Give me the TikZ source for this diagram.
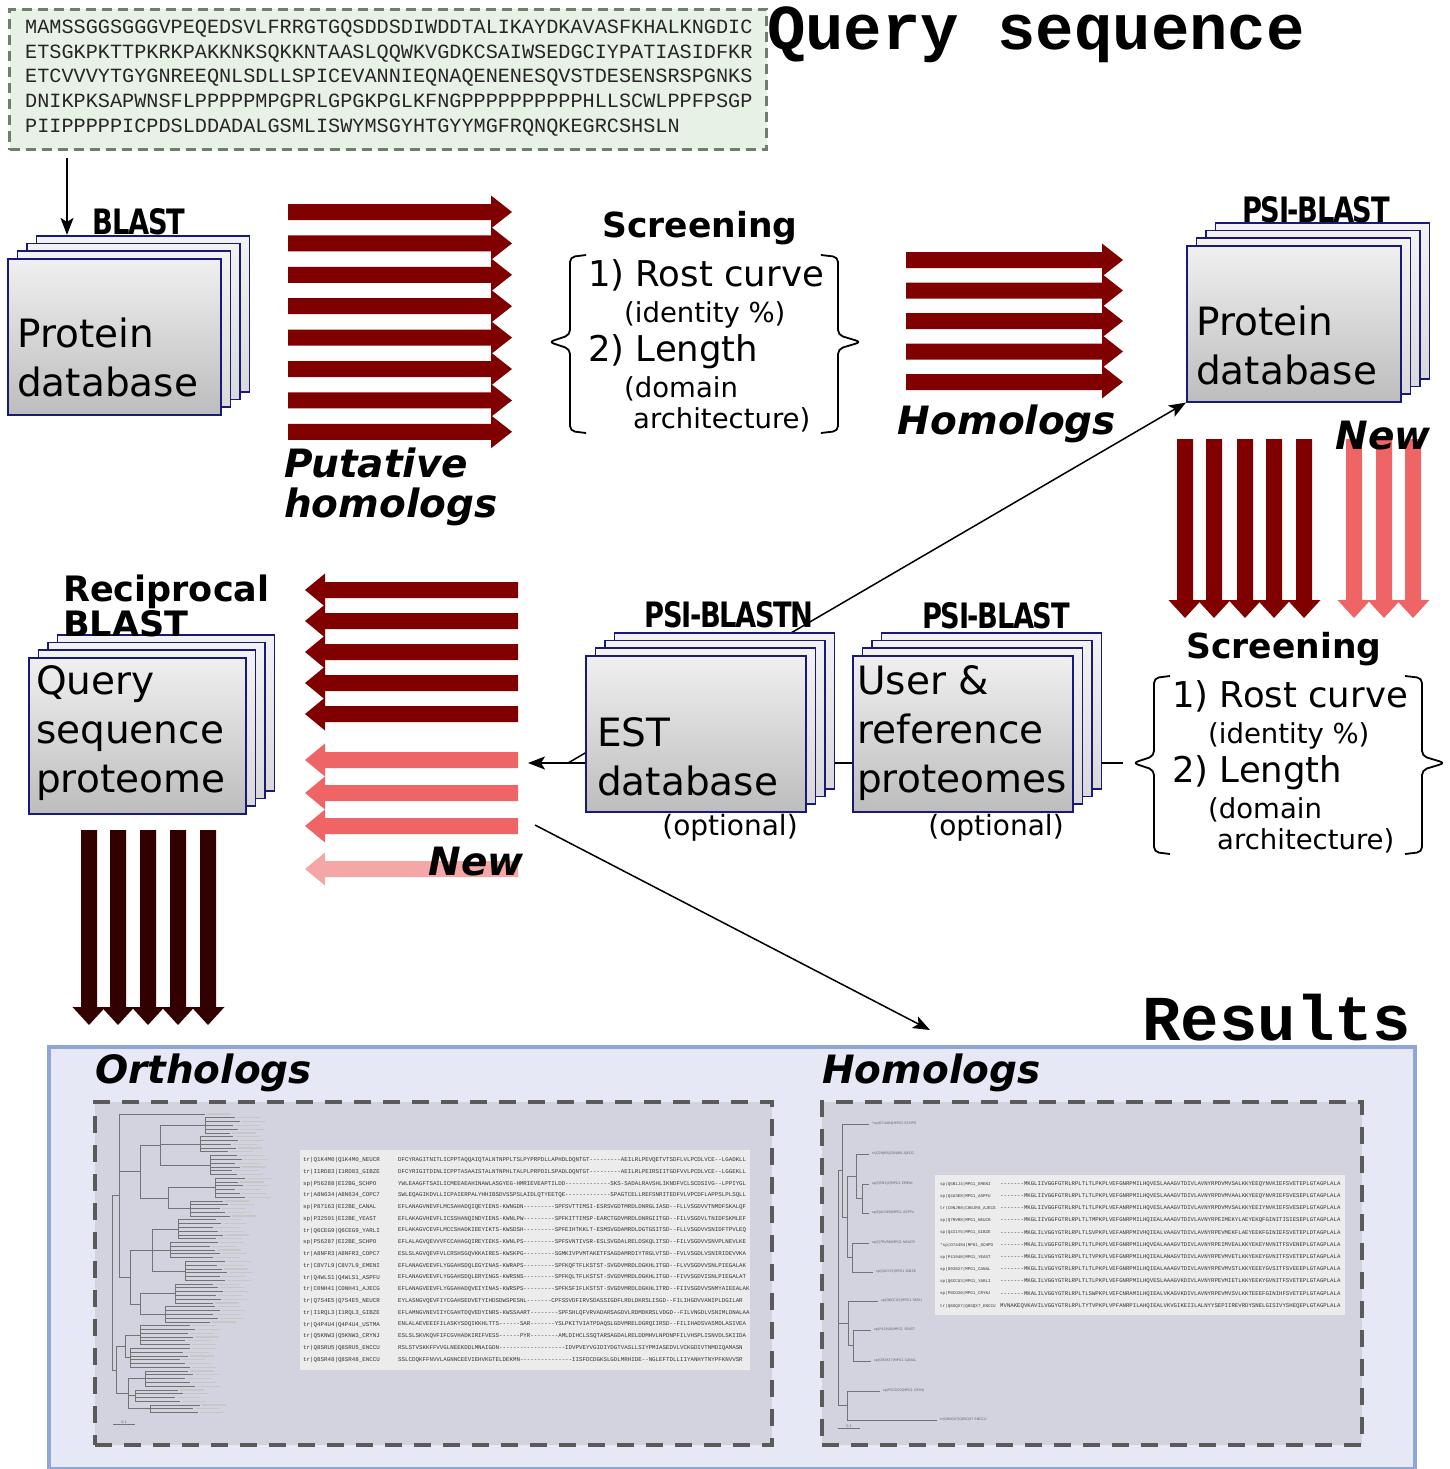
\documentclass[tikz,border=0pt]{standalone}
\usepackage{fontspec}
\setmainfont{DejaVu Sans}
\newfontfamily\monofont{Liberation Mono}[Ligatures=TeXOff]
\newfontfamily\narrowfont{DejaVu Sans}[FakeStretch=0.78,LetterSpace=-4]
\usetikzlibrary{arrows.meta,positioning,calc,backgrounds}
\definecolor{arrowred}{RGB}{128,0,0}
\definecolor{newred}{RGB}{239,100,100}
\definecolor{palered}{RGB}{245,166,166}
\definecolor{darkbrown}{RGB}{51,0,0}
\definecolor{cardedge}{RGB}{25,25,120}
\definecolor{seqfill}{RGB}{232,241,230}
\definecolor{seqedge}{RGB}{110,128,108}
\definecolor{resfill}{RGB}{230,232,245}
\definecolor{resedge}{RGB}{142,166,216}
\definecolor{panelfill}{RGB}{210,211,222}
\definecolor{paneledge}{RGB}{90,90,90}
\definecolor{alnfill}{RGB}{236,236,236}
\tikzset{
  card/.style={draw=cardedge,line width=1.6pt,top color=black!6,bottom color=black!26,inner sep=0pt},
  backcard/.style={card,top color=black!5,bottom color=black!15},
  cardtxt/.style={font=\fontsize{39}{49}\selectfont,align=left,anchor=west,inner sep=0pt},
  dblabel/.style={font=\narrowfont\bfseries\fontsize{35}{35}\selectfont,inner sep=0pt},
  headtxt/.style={font=\bfseries\fontsize{34.5}{36}\selectfont,inner sep=0pt},
  critbig/.style={font=\fontsize{35.5}{40}\selectfont,anchor=west,inner sep=0pt},
  critsmall/.style={font=\fontsize{27.5}{30}\selectfont,anchor=west,inner sep=0pt},
  tagtxt/.style={font=\bfseries\itshape\fontsize{39}{40}\selectfont,inner sep=0pt},
  monotitle/.style={font=\monofont\bfseries\fontsize{64}{64}\selectfont,inner sep=0pt},
  seqtxt/.style={font=\monofont\fontsize{20.2}{24}\selectfont,anchor=base west,inner sep=0pt,text=black!85},
  alnid/.style={font=\monofont\fontsize{5.8}{6}\selectfont,anchor=west,inner sep=0pt,text=black!80},
  alnseq/.style={font=\monofont\fontsize{5.8}{6}\selectfont,anchor=west,inner sep=0pt,text=black!80},
  bracepath/.style={line width=1.8pt,rounded corners=5pt},
  flowarrow/.style={-{Stealth[length=17pt,width=13pt,inset=4pt]},line width=1.5pt},
  treeln/.style={line width=0.8pt,black!55},
  leafln/.style={line width=1.2pt,black!22},
  leaftxt/.style={font=\fontsize{3.4}{4}\selectfont,anchor=west,inner sep=0pt,text=black!60},
  dashpanel/.style={draw=paneledge,fill=panelfill,line width=4pt,dash pattern=on 17pt off 12pt,anchor=north west,inner sep=0pt},
}
% block arrows
\newcommand{\rightblock}[4]{\fill[#4] (#1,#3-8) -- (#2-21,#3-8) -- (#2-21,#3-16.5) -- (#2,#3) -- (#2-21,#3+16.5) -- (#2-21,#3+8) -- (#1,#3+8) -- cycle;}
\newcommand{\leftblock}[4]{\fill[#4] (#1,#3) -- (#1+20,#3-16.5) -- (#1+20,#3-8) -- (#2,#3-8) -- (#2,#3+8) -- (#1+20,#3+8) -- (#1+20,#3+16.5) -- cycle;}
\newcommand{\downblock}[4]{\fill[#4] (#1-8,#2) -- (#1+8,#2) -- (#1+8,#3-18) -- (#1+16.5,#3-18) -- (#1,#3) -- (#1-16.5,#3-18) -- (#1-8,#3-18) -- cycle;}
% stack of database cards
\newcommand{\cardstack}[4]{%
  \foreach \k in {3,2,1}{\node[backcard,anchor=north west,minimum width=#3pt,minimum height=#4pt] (#1\k) at ($(#2)+\k*(9.5,-7.7)$) {};}
  \node[card,anchor=north west,minimum width=#3pt,minimum height=#4pt] (#1) at (#2) {};}
% screening criteria with braces
\newcommand{\screenblock}[2]{%
  \begin{scope}[shift={(#2)}]
    \node[headtxt] (#1head) at (700,228) {Screening};
    \node[critbig] (#1a) at (588,275) {1) Rost curve};
    \node[critsmall] (#1b) at (624,315) {(identity \%)};
    \node[critbig] (#1c) at (588,352) {2) Length};
    \node[critsmall] (#1d) at (624,389) {(domain};
    \node[critsmall] (#1e) at (633,420) {architecture)};
    \draw[bracepath] (586,255) -- (570,257) -- (570,335) -- (549,342) -- (570,349) -- (570,431) -- (586,433);
    \draw[bracepath] (821,255) -- (838,257) -- (838,335) -- (861,342) -- (838,349) -- (838,431) -- (821,433);
    \coordinate (#1tip) at (549,342);
  \end{scope}}

\begin{document}
\begin{tikzpicture}[x=1pt,y=-1pt]
\useasboundingbox (0,0) rectangle (1449,1469);

% query sequence
\node[draw=seqedge,fill=seqfill,line width=3pt,dash pattern=on 10pt off 6pt,anchor=north west,minimum width=757pt,minimum height=140pt,inner sep=0pt] (query) at (8,8) {};
\foreach \s [count=\i from 0] in {MAMSSGGSGGGVPEQEDSVLFRRGTGQSDDSDIWDDTALIKAYDKAVASFKHALKNGDIC,ETSGKPKTTPKRKPAKKNKSQKKNTAASLQQWKVGDKCSAIWSEDGCIYPATIASIDFKR,ETCVVVYTGYGNREEQNLSDLLSPICEVANNIEQNAQENENESQVSTDESENSRSPGNKS,DNIKPKSAPWNSFLPPPPPMPGPRLGPGKPGLKFNGPPPPPPPPPPHLLSCWLPPFPSGP,PIIPPPPPICPDSLDDADALGSMLISWYMSGYHTGYYMGFRQNQKEGRCSHSLN}
  \node[seqtxt] (seq\i) at (25,{34+24.5*\i}) {\s};
\node[monotitle] (qtitle) at (1036,35) {Query sequence};

% first BLAST round
\cardstack{prot}{7,258}{213}{156}
\node[cardtxt] (prottxt) at (17,357) {Protein\\database};
\node[dblabel] (blastlbl) at (139,222) {BLAST};
\coordinate (qout) at ($(query.south west)+(59,7)$);
\draw[flowarrow] (qout) -- (qout |- prot3.north);

\foreach \i in {0,...,7}{\pgfmathsetmacro\yy{212+31.4*\i}\rightblock{288}{512}{\yy}{arrowred}}
\node[tagtxt,align=left,anchor=west] (putlbl) at (284,487) {Putative\\homologs};

\screenblock{scrA}{0,0}

\foreach \i in {0,...,4}{\pgfmathsetmacro\yy{260+30.5*\i}\rightblock{906}{1123}{\yy}{arrowred}}
\node[tagtxt] (homlbl) at (1007,424) {Homologs};

% PSI-BLAST round
\cardstack{psiprot}{1186,245}{214}{156}
\node[cardtxt] (psiprottxt) at (1196,345) {Protein\\database};
\node[dblabel] (psilbl) at (1316,210) {PSI-BLAST};

\foreach \x in {1185,1214,1245,1274,1304} \downblock{\x}{439}{618}{arrowred};
\foreach \x in {1354,1384,1413} \downblock{\x}{439}{618}{newred};
\node[tagtxt] (newtop) at (1383,436) {New};

\screenblock{scrB}{584,421}

% optional databases
\cardstack{est}{585,655}{220}{156}
\node[cardtxt] (esttxt) at (597,757) {EST\\database};
\node[dblabel] (psinlbl) at (729,615) {PSI-BLASTN};
\node[font=\fontsize{28}{30}\selectfont,inner sep=0pt] (estopt) at (730,828) {(optional)};

\cardstack{user}{852,655}{220}{156}
\node[cardtxt] (usertxt) at (857,733) {User \&\\reference\\proteomes};
\node[dblabel] (psimidlbl) at (996,616) {PSI-BLAST};
\node[font=\fontsize{28}{30}\selectfont,inner sep=0pt] (useropt) at (996,828) {(optional)};

% reciprocal BLAST
\foreach \i in {0,...,4}{\pgfmathsetmacro\yy{590+31*\i}\leftblock{305}{518}{\yy}{arrowred}}
\foreach \yy in {760,793,826} \leftblock{305}{518}{\yy}{newred};
\leftblock{305}{518}{869}{palered}
\node[tagtxt] (newmid) at (476,862) {New};

\cardstack{recip}{28,657}{217}{156}
\node[cardtxt] (reciptxt) at (36,733) {Query\\sequence\\proteome};
\node[font=\bfseries\fontsize{35}{28}\selectfont,align=left,anchor=west,inner sep=0pt] (reciplbl) at (63,606) {Reciprocal\\BLAST};

\foreach \x in {89,118,148,178,208} \downblock{\x}{830}{1025}{darkbrown};

% connectors
\coordinate (estout) at (528,763);
\coordinate (split) at (568,763);
\coordinate (resfrom) at (535,825);
\coordinate (resto) at (930,1030);
\begin{scope}[on background layer]
  \draw[flowarrow] ($(scrBtip)+(-10,0)$) -- (estout);
  \draw[flowarrow] (split) -- (psiprot.south west);
\end{scope}
\draw[flowarrow] (resfrom) -- (resto);

% results
\node[monotitle] (restitle) at (1277,1018) {Results};
\node[draw=resedge,fill=resfill,line width=4pt,anchor=north west,minimum width=1366pt,minimum height=422pt,inner sep=0pt] (results) at (47,1045) {};
\node[tagtxt,anchor=west] (orthlbl) at (95,1073) {Orthologs};
\node[tagtxt,anchor=west] (homlbl2) at (822,1073) {Homologs};
\node[dashpanel,minimum width=677pt,minimum height=343pt] (orthpanel) at (93,1100) {};
\node[dashpanel,minimum width=540pt,minimum height=343pt] (homopanel) at (820,1100) {};

% ortholog tree
\foreach \a/\b/\bx/\len in {1/5/205/25,6/10/200/28,11/16/210/22,17/22/215/20,23/27/190/30,28/33/178/35,34/38/170/40,39/44/185/32,45/50/175/38,51/55/165/45,56/61/140/45,62/67/130/50,68/72/145/40,73/76/135/40,77/79/150/40}{
  \draw[treeln] (\bx,{1114+3.78*\a}) -- (\bx,{1114+3.78*\b});
  \foreach \i in {\a,...,\b}{
    \pgfmathsetmacro\lx{\bx+\len+mod(\i*7,5)*2.5}
    \pgfmathsetmacro\ly{1114+3.78*\i}
    \draw[treeln] (\bx,\ly) -- (\lx,\ly);
    \draw[leafln] (\lx+2,\ly) -- ++(24,0);
  }
}
\draw[treeln] (119,1114) -- (205,1114);
\draw[leafln] (207,1114) -- ++(24,0);
\foreach \xa/\xb/\yy in {160/205/1125.3,160/200/1144.2,160/210/1165,168/215/1187.7,168/190/1208.5,152/178/1229.3,152/170/1250.1,152/185/1270.9,140/175/1293.6,140/165/1314.3,125/140/1335.1,125/130/1357.8,128/145/1378.6,128/135/1395.6,128/150/1408.8,140/160/1145.2,140/168/1198.1,130/152/1250.1,130/140/1304,119/140/1171.7,119/130/1277.1,116/125/1346.5,116/128/1393.7,112/119/1195.5,112/116/1370.1}
  \draw[treeln] (\xa,\yy) -- (\xb,\yy);
\foreach \xx/\ya/\yb in {160/1125.3/1165,168/1187.7/1208.5,152/1229.3/1270.9,140/1293.6/1314.3,125/1335.1/1357.8,128/1378.6/1408.8,140/1145.2/1198.1,130/1250.1/1304,119/1114/1277.1,116/1346.5/1393.7,112/1195.5/1370.1}
  \draw[treeln] (\xx,\ya) -- (\xx,\yb);
\draw[treeln] (113,1424) -- (135,1424) node[midway,above=0.5pt,font=\fontsize{3.4}{4}\selectfont,inner sep=0pt,text=black!60] (oscale) {0.1};

% ortholog alignment
\node[fill=alnfill,anchor=north west,minimum width=450pt,minimum height=220pt,inner sep=0pt] (orthaln) at (300,1150) {};
\foreach \id/\sq [count=\r from 0] in {
tr|Q1K4M0|Q1K4M0\_NEUCR/DFCYRAGITNITLICPPTAQQAIQTALNTNPPLTSLPYPRPDLLAPHDLDQNTGT---------AEILRLPEVQETVTSDFLVLPCDLVCE--LGADKLL,
tr|I1RD83|I1RD83\_GIBZE/DFCYRIGITDINLICPPTASAAISTALNTNPHLTALPLPRPDILSPADLDQNTGT---------AEILRLPEIRSIITGDFVVLPCDLVCE--LGGEKLL,
sp|P56288|EI2BG\_SCHPO/YWLEAAGFTSAILICMEEAEAHINAWLASGYEG-HMRIEVEAPTILDD-------------SKS-SADALRAVSHLIKNDFVCLSCDSIVG--LPPIYGL,
tr|A8N634|A8N634\_COPC7/SWLEQAGIKDVLLICPAIERPALYHHIBSDVSSPSLAIDLQTYEETQE-------------SPAGTCELLREFSNRITEDFVLVPCDFLAPPSLPLSQLL,
sp|P87163|EI2BE\_CANAL/EFLANAGVNEVFLMCSAHADQIQEYIENS-KWNGDN---------SPFSVTTIMSI-ESRSVGDTMRDLDNRGLIASD--FLLVSGDVVTNMDFSKALQF,
sp|P32501|EI2BE\_YEAST/EFLAKAGVHEVFLICSSHANQINDYIENS-KWNLPW---------SPFKITTIMSP-EARCTGDVMRDLDNRGIITGD--FILVSGDVLTNIDFSKMLEF,
tr|Q6CEG9|Q6CEG9\_YARLI/EFLAKAGVCEVFLMCCSHADKIEEYIKTS-KWSDSH---------SPFEIHTKKLT-ESMSVGDAMRDLDGTGSITSD--FLLVSGDVVSNIDFTPVLEQ,
sp|P56287|EI2BE\_SCHPO/EFLALAGVQEVVVFCCAHAGQIREYIEKS-KWNLPS---------SPFSVNTIVSR-ESLSVGDALRELDSKQLITSD--FILVSGDVVSNVPLNEVLKE,
tr|A8NFR3|A8NFR3\_COPC7/ESLSLAGVQEVFVLCRSHSGQVKKAIRES-KWSKPG---------SGMKIVPVMTAKETFSAGDAMRDIYTRGLVTSD--FVLVSGDLVSNIRIDEVVKA,
tr|C8V7L9|C8V7L9\_EMENI/EFLANAGVEEVFLYGGAHSDQLEGYINAS-KWRAPS---------SPFKQFTFLKSTST-SVGDVMRDLDGKHLITGD--FLVVSGDVVSNLPIEGALAK,
tr|Q4WLS1|Q4WLS1\_ASPFU/EFLANAGVEEVFLYGGAHSDQLERYINGS-KWRSNS---------SPFKQLTFLKSTST-SVGDVMRDLDGKHLITGD--FIVVSGDVISNLPIEGALAT,
tr|C0NH41|C0NH41\_AJECG/EFLANAGVEEVFLYGGAHADQVEIYINAS-KWRSPS---------SPFKSFIFLKSTST-SVGDVMRDLDGKHLITRD--FIIVSGDVVSNMYAIEEALAK,
tr|Q7S4E5|Q7S4E5\_NEUCR/EYLASNGVQEVFIYCGAHSEDVETYIHDSDWSPESNL-------CPFSSVDFIRVSDASSIGDFLRDLDKRSLISGD--FILIHGDVVANIPLDGILAR,
tr|I1RQL3|I1RQL3\_GIBZE/EFLAMNGVNEVIIYCGAHTDQVEDYINRS-KWSSAART--------SPFSHLQFVRVADARSAGDVLRDMDKRSLVDGD--FILVNGDLVSNIMLDNALAA,
tr|Q4P4U4|Q4P4U4\_USTMA/ENLALAEVEEIFILASKYSDQIKKHLTTS------SAR-------YSLPKITVIATPDAQSLGDVMRELDGRQIIRSD--FILIHADSVASMDLASIVEA,
tr|Q5KNW3|Q5KNW3\_CRYNJ/ESLSLSKVKQVFIFCGVHADKIRIFVESS------PYR--------AMLDIHCLSSQTARSAGDALRELDDMHVLNPDNPFILVHSPLISNVDLSKIIDA,
tr|Q8SRU5|Q8SRU5\_ENCCU/RSLSTVSKKFFVVGLNEEKDDLMNAIGDN-------------------IDVPVEYVGIDIYDGTVASLLSIYPMIASEDVLVCKGDIVTNMDIQAMASN,
tr|Q8SR48|Q8SR48\_ENCCU/SSLCDQKFFNVVLAGNNCEEVIEHVKGTELDEKMN---------------IISFDCDGKSLGDLMRHIDE--NGLEFTDLLIIYANHYTNYPFKNVVSR}{
  \node[alnid] (oid\r) at (303,{1160+11.75*\r}) {\id};
  \node[alnseq] (oseq\r) at (398,{1160+11.75*\r}) {\sq};
}

% homolog tree
\foreach \yy/\xa/\xb/\lbl [count=\n] in {1124/842/869/{*sp|O74484|MPG1 SCHPO},1154/856/869/{tr|C0NJR8|C0NJR8 AJECG},1184/862/869/{sp|Q5B1J4|MPG1 EMENI},1213/862/869/{sp|Q4U3E8|MPG1 ASPFU},1243/852/869/{sp|Q7RVR8|MPG1 NEUCR},1272/852/873/{sp|Q4I1Y5|MPG1 GIBZE},1301/848/878/{sp|Q6CCU3|MPG1 YARLI},1330/853/871/{sp|P41940|MPG1 YEAST},1361/853/871/{sp|O93827|MPG1 CANAL},1391/847/880/{sp|P0CO20|MPG1 CRYNJ},1420/847/937/{tr|Q8SQX7|Q8SQX7 ENCCU}}{
  \draw[treeln] (\xa,\yy) -- (\xb,\yy);
  \node[leaftxt] (hleaf\n) at (\xb+3,\yy) {\lbl};
}
\foreach \xa/\xb/\yy in {856/862/1198.5,847/856/1176,847/852/1257.5,842/847/1217,838/842/1170,848/853/1345.5,838/848/1323,838/847/1405.5}
  \draw[treeln] (\xa,\yy) -- (\xb,\yy);
\foreach \xx/\ya/\yb in {862/1184/1213,856/1154/1198.5,852/1243/1272,847/1176/1257.5,842/1124/1217,853/1330/1361,848/1301/1345.5,847/1391/1420,838/1170/1405.5}
  \draw[treeln] (\xx,\ya) -- (\xx,\yb);
\draw[treeln] (838,1428) -- (860,1428) node[midway,above=0.5pt,font=\fontsize{3.4}{4}\selectfont,inner sep=0pt,text=black!60] (hscale) {0.1};

% homolog alignment
\node[fill=alnfill,anchor=north west,minimum width=410pt,minimum height=140pt,inner sep=0pt] (homoaln) at (935,1175) {};
\foreach \id/\sq [count=\r from 0] in {
sp|Q5B1J4|MPG1\_EMENI/-------MKGLIIVGGFGTRLRPLTLTLPKPLVEFGNRPMILHQVESLAAAGVTDIVLAVNYRPDVMVSALKKYEEQYNVKIEFSVETEPLGTAGPLALA,
sp|Q4U3E8|MPG1\_ASPFU/-------MKGLIIVGGFGTRLRPLTLTLPKPLVEFGNRPMILHQVESLAAAGVTDIVLAVNYRPDVMVAALKKYEEQYNVRIEFSVESEPLGTAGPLALA,
tr|C0NJR8|C0NJR8\_AJECG/-------MKGLIIVGGFGTRLRPLTLTLPKPLVEFANRPMILHQVESLAAAGVTDIVLAVNYRPDVMVSALKKYEEIYNVKIEFSVESEPLGTAGPLALA,
sp|Q7RVR8|MPG1\_NEUCR/-------MKGLIIVGGFGTRLRPLTLTMPKPLVEFGNRPMILHQIEALAAAGVTDIVLAVNYRPEIMEKYLAEYEKQFGINITISIESEPLGTAGPLALA,
sp|Q4I1Y5|MPG1\_GIBZE/-------MKGLILVGGYGTRLRPLTLSVPKPLVEFANRPMIVHQIEALVAAGVTDIVLAVNYRPEVMEKFLAEYEEKFGINIEFSVETEPLDTAGPLALA,
*sp|O74484|MPG1\_SCHPO/-------MKALILVGGFGTRLRPLTLTLPKPLVEFGNRPMILHQVEALAAAGVTDIVLAVNYRPEIMVEALKKYEKEYNVNITFSVENEPLGTAGPLALA,
sp|P41940|MPG1\_YEAST/-------MKGLILVGGYGTRLRPLTLTVPKPLVEFGNRPMILHQIEALANAGVTDIVLAVNYRPEVMVETLKKYEKEYGVNITFSVETEPLGTAGPLALA,
sp|O93827|MPG1\_CANAL/-------MKGLILVGGYGTRLRPLTLTLPKPLVEFGNRPMILHQIEALAAAGVTDIVLAVNYRPEVMVSTLKKYEEEYGVSITFSVEEEPLGTAGPLALA,
sp|Q6CCU3|MPG1\_YARLI/-------MKGLILVGGYGTRLRPLTLTLPKPLVEFGNRPMILHQVESLAAAGVKDIVLAVNYRPEVMIETLKKYEEKYGVNITFSVETEPLGTAGPLALA,
sp|P0CO20|MPG1\_CRYNJ/-------MKALILVGGYGTRLRPLTLSWPKPLVEFCNRAMILHQIEALVKAGVKDIVLAVNYRPEVMVSVLKKTEEEFGINIHFSVETEPLGTAGPLALA,
tr|Q8SQX7|Q8SQX7\_ENCCU/MVNAKEQVKAVILVGGYGTRLRPLTYTVPKPLVPFANRPILAHQIEALVKVGIKEIILALNYYSEPIIREVRDYSNELGISIVYSHEQEPLGTAGPLALA}{
  \node[alnid,font=\monofont\fontsize{4.2}{5}\selectfont] (hid\r) at (940,{1184+12.2*\r}) {\id};
  \node[alnseq,font=\monofont\fontsize{5.67}{6}\selectfont] (hseq\r) at (1000,{1184+12.2*\r}) {\sq};
}
\end{tikzpicture}
\end{document}
